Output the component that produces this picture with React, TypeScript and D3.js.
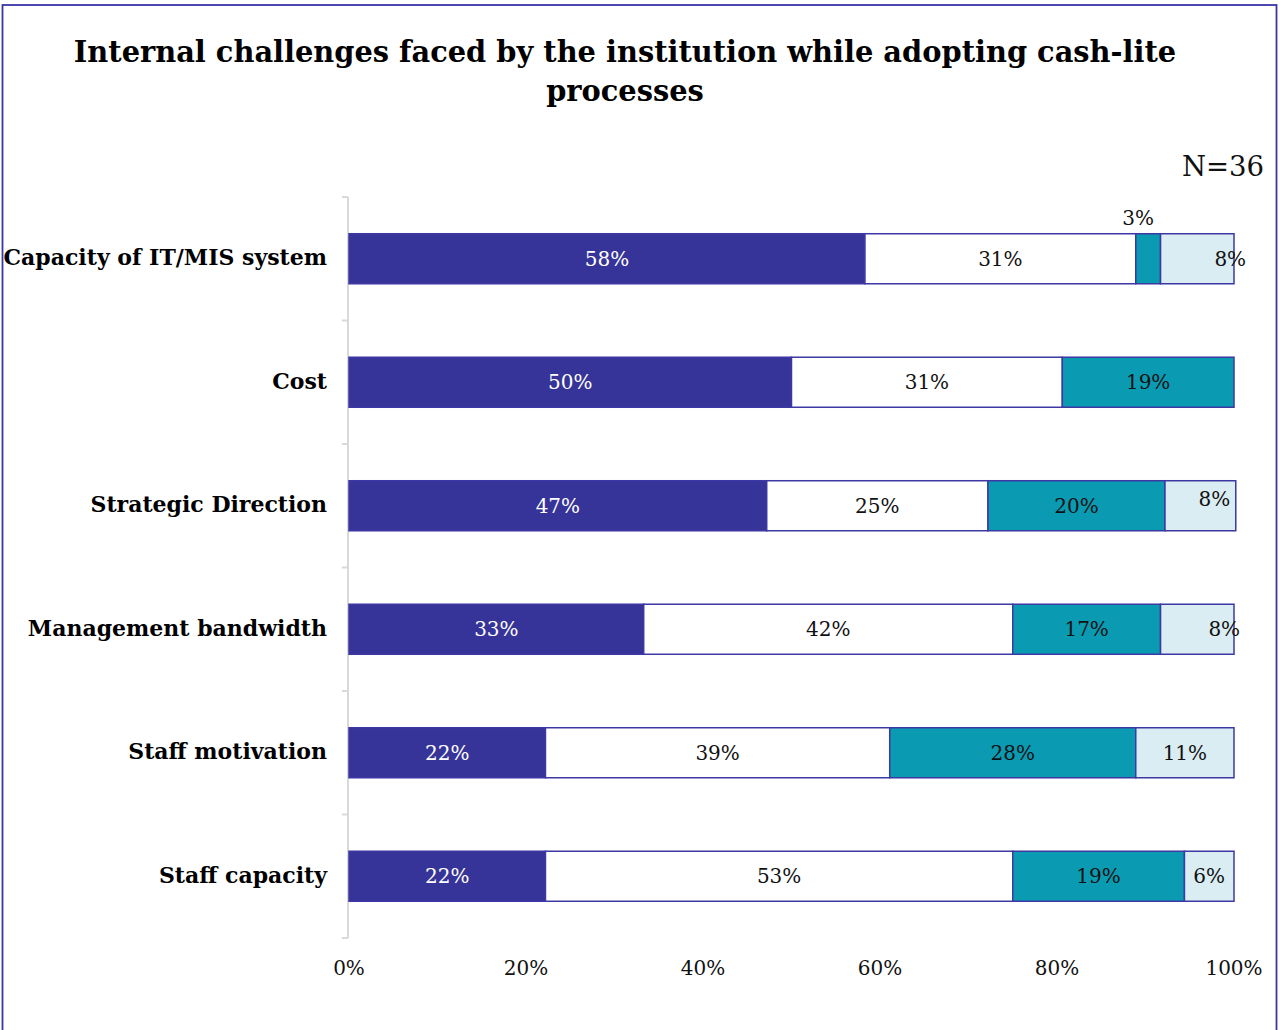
import React from "react";
import * as d3 from "d3";

const categories = [
  "Capacity of IT/MIS system",
  "Cost",
  "Strategic Direction",
  "Management bandwidth",
  "Staff motivation",
  "Staff capacity",
];
const seriesKeys = ["level1", "level2", "level3", "level4"];
const level1 = [58.3, 50, 47.2, 33.3, 22.2, 22.2];
const level2 = [30.6, 30.6, 25, 41.7, 38.9, 52.8];
const level3 = [2.8, 19.4, 20, 16.7, 27.8, 19.4];
const level4 = [8.3, 0, 8, 8.3, 11.1, 5.6];
const xTicks = [0, 20, 40, 60, 80, 100];
const title1 = "Internal challenges faced by the institution while adopting cash-lite";
const title2 = "processes";
const nLabel = "N=36";

const W = 1281;
const H = 1030;
const FONT = "'DejaVu Serif', Georgia, serif";
const colors = ["#363399", "#ffffff", "#0a9bb3", "#daedf3"];
const textColors = ["#ffffff", "#111111", "#111111", "#111111"];
// manual label nudges (dx, dy) keyed by "row-series"
const labelNudge: Record<string, [number, number]> = {
  "0-2": [-10, -41],
  "0-3": [33, 0],
  "2-3": [14, -7],
  "3-3": [27, 0],
};

export default function App() {
  const rows = categories.map((c, i) => ({
    cat: c,
    level1: level1[i],
    level2: level2[i],
    level3: level3[i],
    level4: level4[i],
  }));
  const stack = d3.stack<any>().keys(seriesKeys)(rows);
  const x = d3.scaleLinear().domain([0, 100]).range([349, 1234]);
  const y = d3
    .scaleBand<string>()
    .domain(categories)
    .range([197, 938])
    .paddingInner(0.595)
    .paddingOuter(0.2975);
  const step = y.step();
  const bounds = d3.range(categories.length + 1).map((i) => 197 + i * step);

  return (
    <svg
      width={W}
      height={H}
      style={{ position: "absolute", left: 0, top: 0, background: "#fff" }}
      fontFamily={FONT}
    >
      <rect x={2.5} y={5} width={1274} height={1040} fill="none" stroke="#3a35a8" strokeWidth={1.8} />
      <text x={625} y={62} textAnchor="middle" fontSize={28.85} fontWeight="bold" fill="#000">
        {title1}
      </text>
      <text x={625} y={101} textAnchor="middle" fontSize={28.85} fontWeight="bold" fill="#000">
        {title2}
      </text>
      <text x={1264} y={176} textAnchor="end" fontSize={27.5} fill="#111">
        {nLabel}
      </text>

      {/* axis */}
      <line x1={348} x2={348} y1={197} y2={938} stroke="#d9d9d9" strokeWidth={2} />
      {bounds.map((b, i) => (
        <line key={i} x1={342} x2={348} y1={b} y2={b} stroke="#d9d9d9" strokeWidth={2} />
      ))}

      {stack.map((layer, si) =>
        layer.map((d, ri) => {
          const cat = categories[ri];
          const v = d[1] - d[0];
          if (v <= 0) return null;
          return (
            <rect
              key={`${si}-${ri}`}
              x={x(d[0])}
              y={y(cat)!}
              width={x(d[1]) - x(d[0])}
              height={y.bandwidth()}
              fill={colors[si]}
              stroke="#3d38a3"
              strokeWidth={1.5}
            />
          );
        })
      )}

      {stack.map((layer, si) =>
        layer.map((d, ri) => {
          const cat = categories[ri];
          const v = d[1] - d[0];
          if (v <= 0) return null;
          const nudge = labelNudge[`${ri}-${si}`] || [0, 0];
          const cx = (x(d[0]) + x(d[1])) / 2 + nudge[0];
          const cy = y(cat)! + y.bandwidth() / 2 + nudge[1];
          return (
            <text
              key={`t${si}-${ri}`}
              x={cx}
              y={cy}
              dy="0.35em"
              textAnchor="middle"
              fontSize={20}
              fill={nudge[1] < -30 ? "#111" : textColors[si]}
            >
              {`${Math.round(v)}%`}
            </text>
          );
        })
      )}

      {categories.map((c) => (
        <text
          key={c}
          x={327}
          y={y(c)! + y.bandwidth() / 2}
          dy="0.3em"
          textAnchor="end"
          fontSize={22}
          fontWeight="bold"
          fill="#000"
        >
          {c}
        </text>
      ))}

      {xTicks.map((t) => (
        <text key={t} x={x(t)} y={975} textAnchor="middle" fontSize={20} fill="#111">
          {`${t}%`}
        </text>
      ))}
    </svg>
  );
}
